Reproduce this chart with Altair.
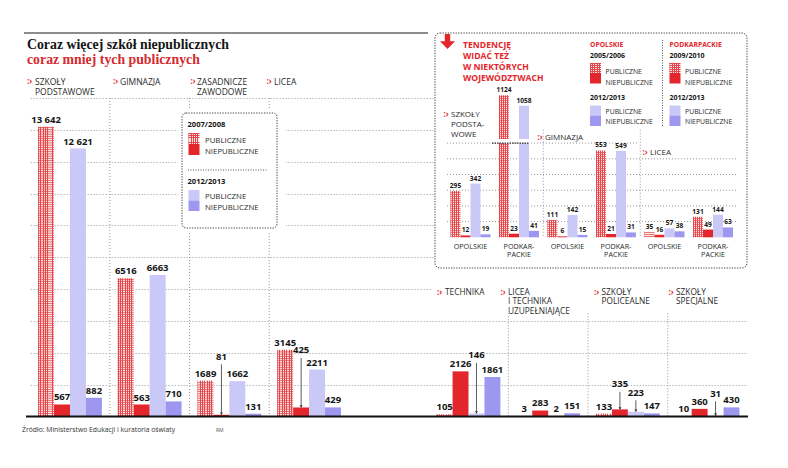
import altair as alt
import pandas as pd

# ======================= DATA =======================
CATEGORIES = ["SZKOŁY PODSTAWOWE", "GIMNAZJA", "ZASADNICZE ZAWODOWE", "LICEA",
              "TECHNIKA", "LICEA I TECHNIKA UZUPEŁNIAJĄCE", "SZKOŁY POLICEALNE", "SZKOŁY SPECJALNE"]
CATEGORY_HEADERS = ["SZKOŁY\nPODSTAWOWE", "GIMNAZJA", "ZASADNICZE\nZAWODOWE", "LICEA",
                    "TECHNIKA", "LICEA\nI TECHNIKA\nUZUPEŁNIAJĄCE", "SZKOŁY\nPOLICEALNE", "SZKOŁY\nSPECJALNE"]
SERIES = ["publiczne (rok bazowy)", "niepubliczne (rok bazowy)",
          "publiczne 2012/2013", "niepubliczne 2012/2013"]
PUBLIC_2007 = [13642, 6516, 1689, 3145, 105, 3, 133, 10]
NONPUBLIC_2007 = [567, 563, 81, 425, 2126, 283, 335, 360]
PUBLIC_2012 = [12621, 6663, 1662, 2211, 146, 2, 223, 31]
NONPUBLIC_2012 = [882, 710, 131, 429, 1861, 151, 147, 430]

INSET_GROUPS = ["SZKOŁY PODSTAWOWE", "GIMNAZJA", "LICEA"]
INSET_GROUP_HEADERS = ["SZKOŁY\nPODSTA-\nWOWE", "GIMNAZJA", "LICEA"]
INSET_REGIONS = ["OPOLSKIE", "PODKARPACKIE"]
INSET_REGION_LABELS = ["OPOLSKIE", "PODKAR-\nPACKIE"]
# order: szkoły podst. (opolskie, podkarpackie), gimnazja (op, pk), licea (op, pk)
INSET_PUBLIC_OLD = [295, 1124, 111, 553, 35, 131]
INSET_NONPUBLIC_OLD = [12, 23, 6, 21, 16, 49]
INSET_PUBLIC_NEW = [342, 1058, 142, 549, 57, 144]
INSET_NONPUBLIC_NEW = [19, 41, 15, 31, 38, 63]

TITLE = "Coraz więcej szkół niepublicznych"
SUBTITLE = "coraz mniej tych publicznych"
TENDENCY = "TENDENCJĘ\nWIDAĆ TEŻ\nW NIEKTÓRYCH\nWOJEWÓDZTWACH"
LEGEND_TYPES = ["PUBLICZNE", "NIEPUBLICZNE"]
MAIN_YEARS = ["2007/2008", "2012/2013"]
OPOLSKIE_YEARS = ["2005/2006", "2012/2013"]
PODKARPACKIE_YEARS = ["2009/2010", "2012/2013"]
SOURCE = "Źródło: Ministerstwo Edukacji i kuratoria oświaty"
AUTHOR = "RM"
GRID_VALUES = [1500, 3000, 4500, 6000, 7500, 9000, 10500, 12000, 13500, 15000]
INSET_GRID_VALUES = [100, 200, 300, 400, 500]
INSET_GRID_TOP = [600]

# ======================= STYLE / LAYOUT =======================
RED = "#e3262b"
HATCH_RED = "#e4474b"
HATCH_BG = "#fce6e6"
TITLE_RED = "#d42a2f"
LAV = "#c9c8f6"
PUR = "#9d97ef"
WHITE = "#ffffff"
CLEAR = "rgba(255,255,255,0)"
INK = "#151515"
TXT = "#2a2a2a"
GRID = "#8c8c8c"
FONT = "Open Sans"
SERIF = "Liberation Serif"

ORIGIN_X, ORIGIN_Y = 20.0, 98.0      # page pixel of plot origin
PLOT_W, PLOT_H = 725, 318.5


def ax(px):
    return round(px - ORIGIN_X, 2)


def ay(py):
    return round(py - ORIGIN_Y, 2)


BASE_Y = 416.5
PX_MAIN = (BASE_Y - 98) / 15000
MAIN_DOMAIN = CATEGORIES[:4] + [" "] + CATEGORIES[4:]
MAIN_X = alt.Scale(domain=MAIN_DOMAIN, range=[ax(30.15), ax(747.45)], paddingInner=0, paddingOuter=0)
MAIN_XO = alt.Scale(domain=SERIES, paddingInner=0, paddingOuter=0.5)
MAIN_Y = alt.Scale(domain=[0, 15000], range=[ay(BASE_Y), ay(98)])
COLOR_SCALE = alt.Scale(domain=SERIES[1:], range=[RED, LAV, PUR])
GRID_AXIS = alt.Axis(grid=True, values=GRID_VALUES, labels=False, ticks=False, domain=False,
                     title=None, gridColor=GRID, gridDash=[1, 2], gridWidth=0.9)

INSET_BASE = 237.3
PX_INSET = 0.157
INSET_SLOTS = [f"{g}|{r}" for g in INSET_GROUPS for r in INSET_REGIONS]
INSET_X = alt.Scale(domain=INSET_SLOTS, range=[ax(446.25), ax(737.25)], paddingInner=0, paddingOuter=0)
INSET_XO = alt.Scale(domain=SERIES, paddingInner=0, paddingOuter=0.425)
INSET_Y = alt.Scale(domain=[0, 1000], range=[ay(INSET_BASE), ay(INSET_BASE - 1000 * PX_INSET)])
BREAK_AT, BREAK_CUT, GAP_LO, GAP_HI = 700, 220, 600, 626

LABEL_LIFT_PX = {("ZASADNICZE ZAWODOWE", 1): 51, ("LICEA", 1): 50, ("TECHNIKA", 2): 51,
                 ("SZKOŁY POLICEALNE", 1): 18, ("SZKOŁY POLICEALNE", 2): 12, ("SZKOŁY SPECJALNE", 2): 15}
MAIN_SEPARATORS = [("GIMNAZJA", 15000), ("ZASADNICZE ZAWODOWE", 15000), ("LICEA", 15000),
                   ("LICEA I TECHNIKA UZUPEŁNIAJĄCE", 4860), ("SZKOŁY POLICEALNE", 4860),
                   ("SZKOŁY SPECJALNE", 4860)]
INSET_SEPARATORS = [(INSET_SLOTS[2], 685), (INSET_SLOTS[4], 685)]

HEAD_PATH = "M-1,-1.5L1,-1.5L0,0Z"
ARROW_PATH = "M-0.36,-1L0.36,-1L0.36,-0.02L1,-0.02L0,1L-1,-0.02L-0.36,-0.02Z"


def fmt(v):
    return f"{v:,}".replace(",", " ") if v >= 10000 else str(v)


def hatch_stops(n, frac, a, b):
    stops = []
    for k in range(n):
        s, m, e = k / n, (k + frac) / n, (k + 1) / n
        stops += [{"offset": round(s, 4), "color": a}, {"offset": round(m, 4), "color": a},
                  {"offset": round(m, 4), "color": b}, {"offset": round(e, 4), "color": b}]
    return stops


def vstripes(n, frac=0.42):
    return {"gradient": "linear", "x1": 0, "y1": 0, "x2": 1, "y2": 0,
            "stops": hatch_stops(n, frac, HATCH_RED, HATCH_BG)}


def hstripes(n, frac=0.38):
    return {"gradient": "linear", "x1": 0, "y1": 0, "x2": 0, "y2": 1,
            "stops": hatch_stops(n, frac, HATCH_RED, CLEAR)}


# ======================= MAIN CHART =======================
main_rows = []
for i, cat in enumerate(CATEGORIES):
    vals = [PUBLIC_2007[i], NONPUBLIC_2007[i], PUBLIC_2012[i], NONPUBLIC_2012[i]]
    for j, s in enumerate(SERIES):
        v = vals[j]
        lift = LABEL_LIFT_PX.get((cat, j), 0)
        main_rows.append({"cat": cat, "series": s, "v": v, "label": fmt(v),
                          "ylab": v + lift / PX_MAIN, "yarrow": v + (lift - 0.5) / PX_MAIN,
                          "lifted": lift > 0})
main_df = pd.DataFrame(main_rows)

X_MAIN = alt.X("cat:N", scale=MAIN_X, axis=None)
XO_MAIN = alt.XOffset("series:N", scale=MAIN_XO)


def y_main(f):
    return alt.Y(f, scale=MAIN_Y, axis=GRID_AXIS)


base_main = alt.Chart(main_df)
STEP_M, TH_M = 2.2, 0.75

m_hatched = base_main.transform_filter(alt.datum.series == SERIES[0]).mark_bar(
    fill=vstripes(7)).encode(x=X_MAIN, xOffset=XO_MAIN, y=y_main("v:Q"))

m_texture = (base_main.transform_filter(alt.datum.series == SERIES[0])
             .transform_calculate(n=f"floor((datum.v * {PX_MAIN} - {TH_M} - 0.4) / {STEP_M}) + 1")
             .transform_calculate(seq="sequence(0, max(datum.n, 0))")
             .transform_flatten(["seq"])
             .transform_calculate(t0=f"(datum.seq * {STEP_M} + 0.4) / {PX_MAIN}")
             .transform_calculate(t1=f"datum.t0 + {TH_M} / {PX_MAIN}")
             .mark_bar(color=HATCH_RED)
             .encode(x=X_MAIN, xOffset=XO_MAIN, y=y_main("t0:Q"), y2="t1:Q"))

m_bars = base_main.transform_filter(alt.datum.series != SERIES[0]).mark_bar().encode(
    x=X_MAIN, xOffset=XO_MAIN, y=y_main("v:Q"),
    fill=alt.Fill("series:N", scale=COLOR_SCALE, legend=None))

m_seps = alt.Chart(pd.DataFrame(MAIN_SEPARATORS, columns=["cat", "top"])).mark_rule(
    color=GRID, strokeDash=[1, 2], strokeWidth=0.9).encode(
    x=alt.X("cat:N", scale=MAIN_X, axis=None, bandPosition=0), y=y_main("top:Q"), y2=alt.datum(0))

m_labels = base_main.mark_text(font=FONT, fontWeight="bold", fontSize=9.5, color=INK,
                               baseline="bottom", dy=-2).encode(
    x=X_MAIN, xOffset=XO_MAIN, y=y_main("ylab:Q"), text="label:N")

m_arrows = base_main.transform_filter("datum.lifted").mark_rule(color="#333", strokeWidth=0.8).encode(
    x=X_MAIN, xOffset=XO_MAIN, y=y_main("yarrow:Q"), y2="v:Q")

m_heads = base_main.transform_filter("datum.lifted").mark_point(
    shape=HEAD_PATH, filled=True, size=9, color="#333", opacity=1).encode(
    x=X_MAIN, xOffset=XO_MAIN, y=y_main("v:Q"))

main_layer = alt.layer(m_hatched, m_texture, m_bars, m_seps, m_labels, m_arrows, m_heads)

# ======================= INSET CHART =======================
inset_rows = []
for k, slot in enumerate(INSET_SLOTS):
    vals = [INSET_PUBLIC_OLD[k], INSET_NONPUBLIC_OLD[k], INSET_PUBLIC_NEW[k], INSET_NONPUBLIC_NEW[k]]
    for j, s in enumerate(SERIES):
        inset_rows.append({"slot": slot, "series": s, "v": vals[j], "label": str(vals[j])})
inset_df = pd.DataFrame(inset_rows)

X_IN = alt.X("slot:N", scale=INSET_X, axis=None)
XO_IN = alt.XOffset("series:N", scale=INSET_XO)


def y_in(f):
    return alt.Y(f, scale=INSET_Y, axis=None)


base_in = alt.Chart(inset_df).transform_calculate(
    dv=f"datum.v > {BREAK_AT} ? datum.v - {BREAK_CUT} : datum.v")
STEP_I, TH_I = 2.0, 0.7

i_grid_a = alt.Chart(pd.DataFrame({"lvl": INSET_GRID_VALUES})).mark_rule(
    color=GRID, strokeDash=[1, 2], strokeWidth=0.9).encode(
    y=y_in("lvl:Q"), x=alt.value(ax(447)), x2=alt.value(ax(737)))
i_grid_b = alt.Chart(pd.DataFrame({"lvl": INSET_GRID_TOP})).mark_rule(
    color=GRID, strokeDash=[1, 2], strokeWidth=0.9).encode(
    y=y_in("lvl:Q"), x=alt.value(ax(447)), x2=alt.value(ax(637)))
i_seps = alt.Chart(pd.DataFrame(INSET_SEPARATORS, columns=["slot", "top"])).mark_rule(
    color=GRID, strokeDash=[1, 2], strokeWidth=0.9).encode(
    x=alt.X("slot:N", scale=INSET_X, axis=None, bandPosition=0), y=y_in("top:Q"), y2=alt.datum(0))

i_hatched = base_in.transform_filter(alt.datum.series == SERIES[0]).mark_bar(
    fill=vstripes(5)).encode(x=X_IN, xOffset=XO_IN, y=y_in("dv:Q"))
i_texture = (base_in.transform_filter(alt.datum.series == SERIES[0])
             .transform_calculate(n=f"floor((datum.dv * {PX_INSET} - {TH_I} - 0.4) / {STEP_I}) + 1")
             .transform_calculate(seq="sequence(0, max(datum.n, 0))")
             .transform_flatten(["seq"])
             .transform_calculate(t0=f"(datum.seq * {STEP_I} + 0.4) / {PX_INSET}")
             .transform_calculate(t1=f"datum.t0 + {TH_I} / {PX_INSET}")
             .mark_bar(color=HATCH_RED)
             .encode(x=X_IN, xOffset=XO_IN, y=y_in("t0:Q"), y2="t1:Q"))
i_bars = base_in.transform_filter(alt.datum.series != SERIES[0]).mark_bar().encode(
    x=X_IN, xOffset=XO_IN, y=y_in("dv:Q"),
    fill=alt.Fill("series:N", scale=COLOR_SCALE, legend=None))
i_gap = (base_in.transform_filter(f"datum.v > {BREAK_AT}")
         .transform_calculate(g0=str(GAP_LO), g1=str(GAP_HI))
         .mark_bar(color=WHITE).encode(x=X_IN, xOffset=XO_IN, y=y_in("g0:Q"), y2="g1:Q"))
i_break = alt.Chart(pd.DataFrame({"lvl": [GAP_LO]})).mark_rule(
    color="#333", strokeDash=[1.5, 1], strokeWidth=1.2).encode(
    y=y_in("lvl:Q"), x=alt.value(ax(492)), x2=alt.value(ax(529)))
i_labels = base_in.mark_text(font=FONT, fontWeight="bold", fontSize=6.6, color=INK,
                             baseline="bottom", dy=-2).encode(
    x=X_IN, xOffset=XO_IN, y=y_in("dv:Q"), text="label:N")
i_regions = alt.Chart(pd.DataFrame({
    "slot": INSET_SLOTS,
    "lab": [INSET_REGION_LABELS[k % 2] for k in range(len(INSET_SLOTS))]})).mark_text(
    font=FONT, fontSize=7.2, color=TXT, lineBreak="\n", lineHeight=8.5, baseline="middle").encode(
    x=X_IN, y=alt.value(ay(246.7)), text="lab:N")

inset_layer = alt.layer(i_grid_a, i_grid_b, i_seps, i_hatched, i_texture, i_bars,
                        i_gap, i_break, i_labels, i_regions)


# ======================= ANNOTATIONS =======================
def pos_df(rows, cols):
    df = pd.DataFrame(rows, columns=cols)
    for c in cols:
        if c.startswith("x"):
            df[c] = df[c] - ORIGIN_X
        elif c.startswith("y"):
            df[c] = df[c] - ORIGIN_Y
    return df


def texts(rows, size, color, weight="normal", font=FONT, align="left", baseline="middle", lh=None):
    mk = dict(align=align, baseline=baseline, font=font, fontSize=size, fontWeight=weight,
              color=color, lineBreak="\n")
    if lh:
        mk["lineHeight"] = lh
    return alt.Chart(pos_df(rows, ["t", "x", "y"])).mark_text(**mk).encode(
        x=alt.X("x:Q", scale=None, axis=None), y=alt.Y("y:Q", scale=None, axis=None), text="t:N")


def rects(rows, **mk):
    return alt.Chart(pos_df(rows, ["x0", "y0", "x1", "y1"])).mark_rect(**mk).encode(
        x=alt.X("x0:Q", scale=None, axis=None), x2="x1:Q",
        y=alt.Y("y0:Q", scale=None, axis=None), y2="y1:Q")


def rules(rows, **mk):
    return alt.Chart(pos_df(rows, ["x0", "y0", "x1", "y1"])).mark_rule(**mk).encode(
        x=alt.X("x0:Q", scale=None, axis=None), x2="x1:Q",
        y=alt.Y("y0:Q", scale=None, axis=None), y2="y1:Q")


annot_back = alt.layer(
    rects([(178, 108, 286, 233)], fill=WHITE, strokeWidth=0),
    rects([(182, 113, 277, 228)], fill=WHITE, stroke="#444", strokeDash=[1.3, 1.3],
          strokeWidth=1, cornerRadius=4),
    rects([(431, 286.5, 750, 294)], fill=WHITE, strokeWidth=0),
    rects([(435, 33, 747, 268)], fill=WHITE, stroke="#444", strokeDash=[1.3, 1.3],
          strokeWidth=1, cornerRadius=5),
    rules([(24, 33, 428, 33)], color="#666", strokeWidth=1.6),
)


def swatch_layers(x0, y_h, y_r, y_l, y_p, w=11):
    """hatched, red, lavender, purple swatches"""
    return [
        rects([(x0, y_h[0], x0 + w, y_h[1])], fill=vstripes(5)),
        rects([(x0, y_h[0], x0 + w, y_h[1])], fill=hstripes(5)),
        rects([(x0, y_r[0], x0 + w, y_r[1])], fill=RED),
        rects([(x0, y_l[0], x0 + w, y_l[1])], fill=LAV),
        rects([(x0, y_p[0], x0 + w, y_p[1])], fill=PUR),
    ]


HEADER_POS = [(35, 82), (120, 82), (197, 82), (274, 82),
              (445, 292.5), (508, 292.5), (601.5, 292.5), (676, 292.5)]
ICON_POS = [(27, 82), (113, 82), (190.5, 82), (266.5, 82),
            (437, 292.5), (500.5, 292.5), (594, 292.5), (668.5, 292.5)]
INSET_HEADER_POS = [(451, 115), (545, 138.3), (650, 152.7)]
INSET_ICON_POS = [(443.5, 115), (537.5, 138.3), (642.5, 152.7)]

front = [
    rules([(188, 170, 268, 170)], color="#555", strokeDash=[1, 1.5], strokeWidth=1),
    rules([(662.5, 40, 662.5, 126)], color="#555", strokeDash=[1, 1.5], strokeWidth=1),
    rules([(26, BASE_Y, 748, BASE_Y)], color="#111", strokeWidth=2),
]
front += swatch_layers(188.5, (133, 144), (144, 155), (190, 200.5), (200.5, 211))
for x0 in (590, 669.5):
    front += swatch_layers(x0, (63, 73), (73, 83.5), (105.5, 115.5), (115.5, 126))
front.append(alt.Chart(pos_df([(447.5, 41.5)], ["x", "y"])).mark_point(
    shape=ARROW_PATH, filled=True, size=225, color=RED, opacity=1).encode(
    x=alt.X("x:Q", scale=None, axis=None), y=alt.Y("y:Q", scale=None, axis=None)))

# title
front.append(texts([(TITLE, 27, 49)], 13.8, INK, "bold", SERIF, baseline="alphabetic"))
front.append(texts([(SUBTITLE, 27, 63.5)], 13.8, TITLE_RED, "bold", SERIF, baseline="alphabetic"))
# headers
front.append(texts([(CATEGORY_HEADERS[i], *HEADER_POS[i]) for i in range(4)], 8.5, TXT, lh=9.8))
front.append(texts([(CATEGORY_HEADERS[i], *HEADER_POS[i]) for i in range(4, 8)], 8.3, TXT, lh=9.6))
front.append(texts([(INSET_GROUP_HEADERS[i], *INSET_HEADER_POS[i]) for i in range(3)], 8.0, TXT, lh=10))
front.append(texts([(":›", x, y) for x, y in ICON_POS + INSET_ICON_POS], 8, RED, "bold"))
# main legend
front.append(texts([(MAIN_YEARS[0], 187.5, 125), (MAIN_YEARS[1], 187.5, 181.5)], 7.6, INK, "bold"))
front.append(texts([(LEGEND_TYPES[0], 205, 140.5), (LEGEND_TYPES[1], 205, 152),
                    (LEGEND_TYPES[0], 205, 196.5), (LEGEND_TYPES[1], 205, 208)], 7.8, TXT))
# inset legend
front.append(texts([(TENDENCY, 463, 45)], 8.6, RED, "bold", lh=11))
front.append(texts([(INSET_REGIONS[0], 590, 45), (INSET_REGIONS[1], 669.5, 45)], 6.8, RED, "bold"))
front.append(texts([(OPOLSKIE_YEARS[0], 590, 56), (OPOLSKIE_YEARS[1], 590, 98.3),
                    (PODKARPACKIE_YEARS[0], 669.5, 56), (PODKARPACKIE_YEARS[1], 669.5, 98.3)],
                   7.0, INK, "bold"))
inset_types = []
for x0 in (605.5, 685):
    inset_types += [(LEGEND_TYPES[0], x0, 71.5), (LEGEND_TYPES[1], x0, 82.5),
                    (LEGEND_TYPES[0], x0, 111.7), (LEGEND_TYPES[1], x0, 121.7)]
front.append(texts(inset_types, 6.9, TXT))
# footer
front.append(texts([(SOURCE, 22, 429.5)], 6.8, "#333"))
front.append(texts([(AUTHOR, 216, 429.5)], 5, "#555"))

annot_front = alt.layer(*front)

chart = (alt.layer(main_layer, annot_back, inset_layer, annot_front)
         .resolve_scale(x="independent", y="independent", xOffset="independent")
         .properties(width=PLOT_W, height=PLOT_H,
                     padding={"left": 12, "top": 90, "right": 35, "bottom": 43.5},
                     autosize=alt.AutoSizeParams(type="none"), background="white")
         .configure_view(stroke=None))

chart.save("out.html", embed_options={"renderer": "svg", "actions": False})
